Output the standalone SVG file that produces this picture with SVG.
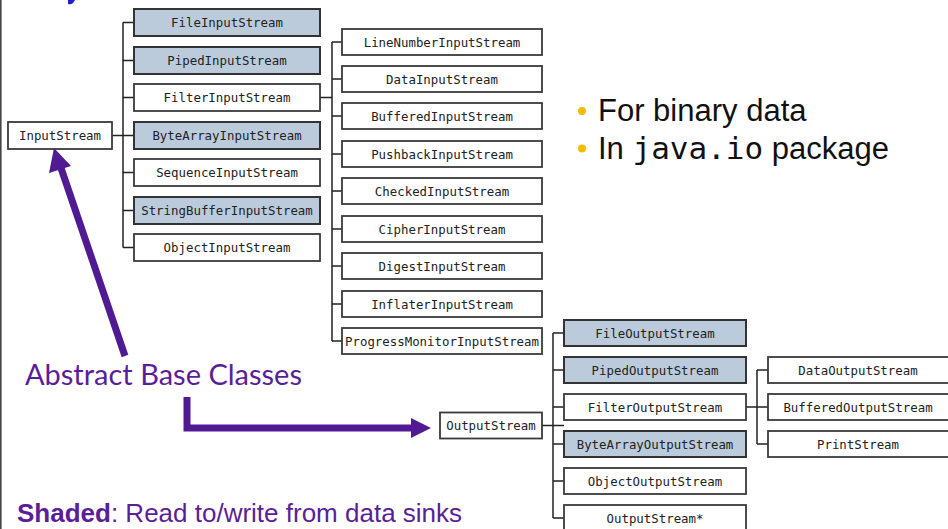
<svg xmlns="http://www.w3.org/2000/svg" width="948" height="529" viewBox="0 0 948 529">
  <style>
    .box { fill: #ffffff; stroke: #3a3a3a; stroke-width: 1.8; }
    .shaded { fill: #bccbdb; stroke: #333; stroke-width: 2; }
    .lbl { font-family: "DejaVu Sans Mono", "Liberation Mono", monospace; font-size: 12.4px; fill: #222; text-anchor: middle; }
    .wire { fill: none; stroke: #222; stroke-width: 1.5; }
    .bul { font-family: "Liberation Sans", Arial, sans-serif; font-size: 31px; fill: #111; }
    .mono { font-family: "DejaVu Sans Mono", "Liberation Mono", monospace; }
    .note { fill: #5a1e9a; }
    .pArrow { fill: none; stroke: #4f1a92; stroke-width: 7; }
  </style>

  <rect width="948" height="529" fill="#ffffff"/>
  <!-- slide frame edge -->
  <line x1="0.8" y1="0" x2="0.8" y2="529" stroke="#444" stroke-width="1.6"/>
  <!-- clipped heading fragment -->
  <path d="M68,0 L75,0 L73,3 Q71,5 68,4 Z" fill="#2020c8"/>

  <!-- connectors -->
  <g id="connectors">
    <!-- InputStream tree -->
    <path class="wire" d="M112,135.5 H134 M123,22.5 V247.5 M123,22.5 H134 M123,60.5 H134 M123,97.5 H134 M123,172.5 H134 M123,210.5 H134 M123,247.5 H134"/>
    <!-- FilterInputStream tree -->
    <path class="wire" d="M320,97.5 H332 M332,42 V341 M332,42 H342 M332,79 H342 M332,116 H342 M332,154 H342 M332,191 H342 M332,229 H342 M332,266 H342 M332,304 H342 M332,341 H342"/>
    <!-- OutputStream tree -->
    <path class="wire" d="M542,425.5 H564 M553,333 V518 M553,333 H564 M553,370 H564 M553,407 H564 M553,444 H564 M553,481 H564 M553,518 H564"/>
    <!-- FilterOutputStream tree -->
    <path class="wire" d="M746,407 H768 M757,370 V444 M757,370 H768 M757,444 H768"/>
  </g>

  <!-- InputStream hierarchy -->
  <g id="InputStream"><rect class="box" x="8" y="122" width="104" height="27"/><text class="lbl" x="60" y="140">InputStream</text></g>
  <g id="FileInputStream"><rect class="box shaded" x="134" y="9" width="186" height="27"/><text class="lbl" x="227" y="27">FileInputStream</text></g>
  <g id="PipedInputStream"><rect class="box shaded" x="134" y="47" width="186" height="27"/><text class="lbl" x="227" y="65">PipedInputStream</text></g>
  <g id="FilterInputStream"><rect class="box" x="134" y="84" width="186" height="27"/><text class="lbl" x="227" y="102">FilterInputStream</text></g>
  <g id="ByteArrayInputStream"><rect class="box shaded" x="134" y="122" width="186" height="27"/><text class="lbl" x="227" y="140">ByteArrayInputStream</text></g>
  <g id="SequenceInputStream"><rect class="box" x="134" y="159" width="186" height="27"/><text class="lbl" x="227" y="177">SequenceInputStream</text></g>
  <g id="StringBufferInputStream"><rect class="box shaded" x="134" y="197" width="186" height="27"/><text class="lbl" x="227" y="215">StringBufferInputStream</text></g>
  <g id="ObjectInputStream"><rect class="box" x="134" y="234" width="186" height="27"/><text class="lbl" x="227" y="252">ObjectInputStream</text></g>

  <g id="LineNumberInputStream"><rect class="box" x="342" y="29" width="200" height="26"/><text class="lbl" x="442" y="46.5">LineNumberInputStream</text></g>
  <g id="DataInputStream"><rect class="box" x="342" y="66" width="200" height="26"/><text class="lbl" x="442" y="83.5">DataInputStream</text></g>
  <g id="BufferedInputStream"><rect class="box" x="342" y="103" width="200" height="26"/><text class="lbl" x="442" y="120.5">BufferedInputStream</text></g>
  <g id="PushbackInputStream"><rect class="box" x="342" y="141" width="200" height="26"/><text class="lbl" x="442" y="158.5">PushbackInputStream</text></g>
  <g id="CheckedInputStream"><rect class="box" x="342" y="178" width="200" height="26"/><text class="lbl" x="442" y="195.5">CheckedInputStream</text></g>
  <g id="CipherInputStream"><rect class="box" x="342" y="216" width="200" height="26"/><text class="lbl" x="442" y="233.5">CipherInputStream</text></g>
  <g id="DigestInputStream"><rect class="box" x="342" y="253" width="200" height="26"/><text class="lbl" x="442" y="270.5">DigestInputStream</text></g>
  <g id="InflaterInputStream"><rect class="box" x="342" y="291" width="200" height="26"/><text class="lbl" x="442" y="308.5">InflaterInputStream</text></g>
  <g id="ProgressMonitorInputStream"><rect class="box" x="342" y="328" width="200" height="26"/><text class="lbl" x="442" y="345.5">ProgressMonitorInputStream</text></g>

  <!-- OutputStream hierarchy -->
  <g id="OutputStream"><rect class="box" x="440" y="412.5" width="102" height="26"/><text class="lbl" x="491" y="430">OutputStream</text></g>
  <g id="FileOutputStream"><rect class="box shaded" x="564" y="320" width="182" height="26"/><text class="lbl" x="655" y="337.5">FileOutputStream</text></g>
  <g id="PipedOutputStream"><rect class="box shaded" x="564" y="357" width="182" height="26"/><text class="lbl" x="655" y="374.5">PipedOutputStream</text></g>
  <g id="FilterOutputStream"><rect class="box" x="564" y="394" width="182" height="26"/><text class="lbl" x="655" y="411.5">FilterOutputStream</text></g>
  <g id="ByteArrayOutputStream"><rect class="box shaded" x="564" y="431" width="182" height="26"/><text class="lbl" x="655" y="448.5">ByteArrayOutputStream</text></g>
  <g id="ObjectOutputStream"><rect class="box" x="564" y="468" width="182" height="26"/><text class="lbl" x="655" y="485.5">ObjectOutputStream</text></g>
  <g id="OutputStreamStar"><rect class="box" x="564" y="505" width="182" height="28"/><text class="lbl" x="655" y="522.5">OutputStream*</text></g>

  <g id="DataOutputStream"><rect class="box" x="768" y="357" width="190" height="26"/><text class="lbl" x="858" y="374.5">DataOutputStream</text></g>
  <g id="BufferedOutputStream"><rect class="box" x="768" y="394" width="190" height="26"/><text class="lbl" x="858" y="411.5">BufferedOutputStream</text></g>
  <g id="PrintStream"><rect class="box" x="768" y="431" width="190" height="26"/><text class="lbl" x="858" y="448.5">PrintStream</text></g>

  <!-- bullet notes -->
  <g id="bullets">
    <circle cx="582" cy="111" r="4" fill="#f2bd00"/>
    <circle cx="582" cy="148.5" r="4" fill="#f2bd00"/>
    <text class="bul" x="598" y="121">For binary data</text>
    <text class="bul" x="598" y="159">In <tspan class="mono">java.io</tspan> package</text>
  </g>

  <!-- annotation arrows -->
  <g id="annotations">
    <path class="pArrow" d="M125,356 L61,168" />
    <path d="M54,148 L71,166 L49,173 Z" fill="#4f1a92"/>
    <path class="pArrow" d="M187,397 V428 H413" />
    <path d="M431,428 L411,418 L411,438 Z" fill="#4f1a92"/>
    <text class="note" x="25" y="385" font-family="Lato, 'Open Sans', sans-serif" font-size="28" textLength="277" lengthAdjust="spacingAndGlyphs">Abstract Base Classes</text>
    <text class="note" x="17" y="521.5" font-family="'Liberation Sans', Arial, sans-serif" font-size="26"><tspan font-weight="bold">Shaded</tspan>: Read to/write from data sinks</text>
  </g>
</svg>
